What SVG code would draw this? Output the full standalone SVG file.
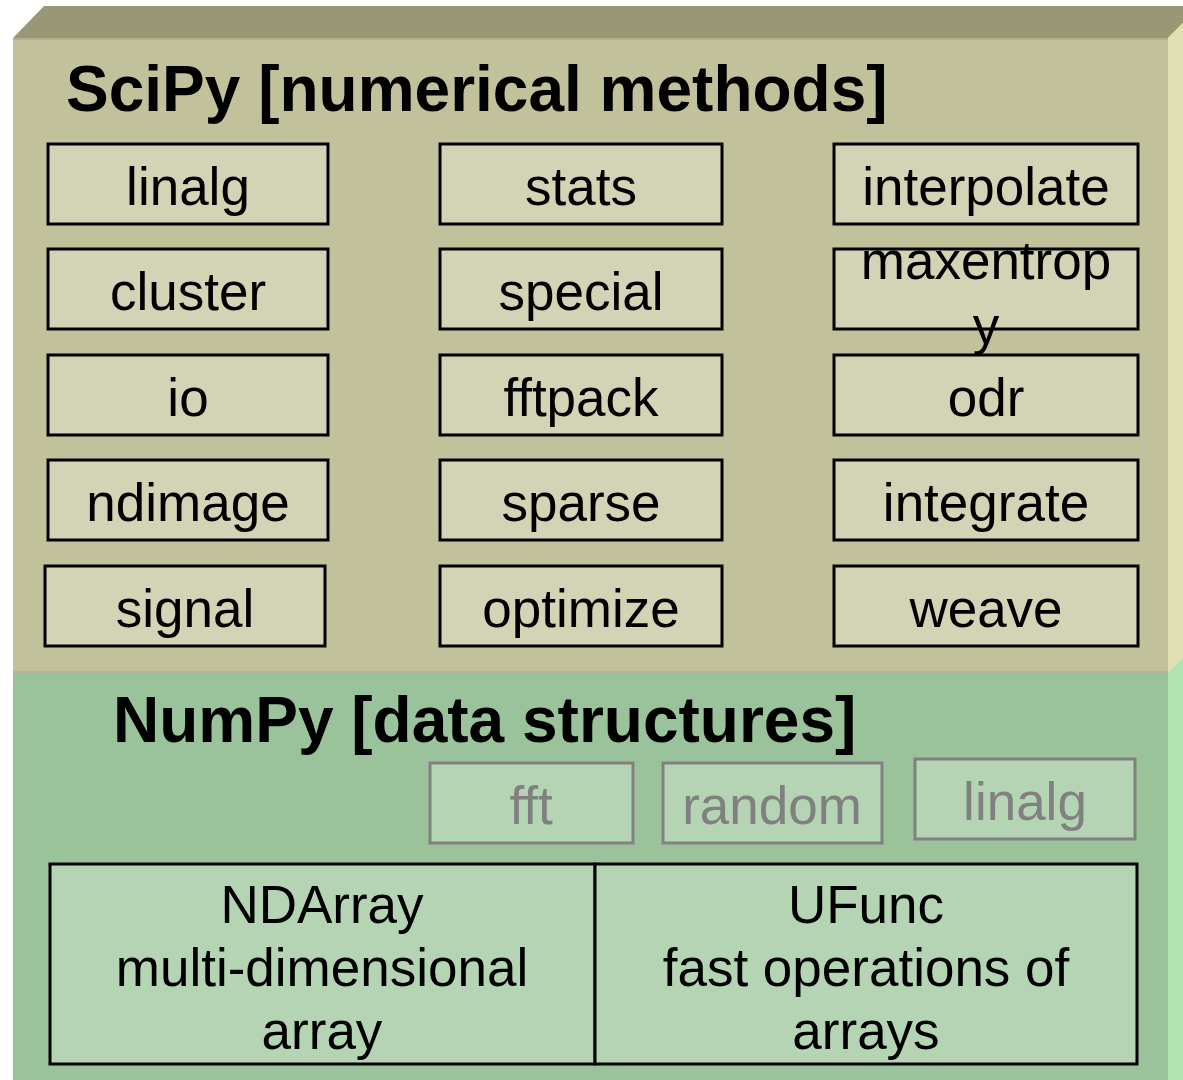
<svg xmlns="http://www.w3.org/2000/svg" width="1183" height="1080" viewBox="0 0 1183 1080">
<style>
.t{font-family:"Liberation Sans",Arial,sans-serif;font-size:53px;text-anchor:middle;fill:#000}
.title{font-family:"Liberation Sans",Arial,sans-serif;font-size:64px;font-weight:bold;fill:#000}
.sb{fill:#d3d3b5;stroke:#000;stroke-width:3}
.gb{fill:#b4d4b4;stroke:#808080;stroke-width:3}
.gt{font-family:"Liberation Sans",Arial,sans-serif;font-size:53px;text-anchor:middle;fill:#808080}
.nb{fill:#b4d4b4;stroke:#000;stroke-width:3}
</style>
<rect width="1183" height="1080" fill="#fff"/>
<g id="scipy-layer">
<polygon points="13,38 44,6 1200,6 1168,38" fill="#989776"/>
<polygon points="1168,38 1200,6 1200,641 1168,672" fill="#e0e0b2"/>
<rect x="13" y="38" width="1155" height="634" fill="#c1c29c"/>
<line x1="13" y1="39" x2="1168" y2="39" stroke="#b0b08e" stroke-width="2"/>
<text class="title" x="66" y="111">SciPy [numerical methods]</text>
</g>
<g id="numpy-layer">
<polygon points="1168,672 1200,641 1200,1080 1168,1080" fill="#b2e2b2"/>
<rect x="13" y="672" width="1155" height="408" fill="#9bc39b"/>
<line x1="13" y1="672" x2="1168" y2="672" stroke="#b4b493" stroke-width="2"/>
<text class="title" x="113" y="742">NumPy [data structures]</text>
</g>
<g id="linalg"><rect class="sb" x="48" y="144" width="280" height="80"/><text class="t" x="188" y="205">linalg</text></g>
<g id="stats"><rect class="sb" x="440" y="144" width="282" height="80"/><text class="t" x="581" y="205">stats</text></g>
<g id="interpolate"><rect class="sb" x="834" y="144" width="304" height="80"/><text class="t" x="986" y="205">interpolate</text></g>
<g id="cluster"><rect class="sb" x="48" y="249" width="280" height="80"/><text class="t" x="188" y="310">cluster</text></g>
<g id="special"><rect class="sb" x="440" y="249" width="282" height="80"/><text class="t" x="581" y="310">special</text></g>
<g id="maxentropy"><rect class="sb" x="834" y="249" width="304" height="80"/><text class="t" x="986" y="279">maxentrop</text><text class="t" x="986" y="344">y</text></g>
<g id="io"><rect class="sb" x="48" y="355" width="280" height="80"/><text class="t" x="188" y="416">io</text></g>
<g id="fftpack"><rect class="sb" x="440" y="355" width="282" height="80"/><text class="t" x="581" y="416">fftpack</text></g>
<g id="odr"><rect class="sb" x="834" y="355" width="304" height="80"/><text class="t" x="986" y="416">odr</text></g>
<g id="ndimage"><rect class="sb" x="48" y="460" width="280" height="80"/><text class="t" x="188" y="521">ndimage</text></g>
<g id="sparse"><rect class="sb" x="440" y="460" width="282" height="80"/><text class="t" x="581" y="521">sparse</text></g>
<g id="integrate"><rect class="sb" x="834" y="460" width="304" height="80"/><text class="t" x="986" y="521">integrate</text></g>
<g id="signal"><rect class="sb" x="45" y="566" width="280" height="80"/><text class="t" x="185" y="627">signal</text></g>
<g id="optimize"><rect class="sb" x="440" y="566" width="282" height="80"/><text class="t" x="581" y="627">optimize</text></g>
<g id="weave"><rect class="sb" x="834" y="566" width="304" height="80"/><text class="t" x="986" y="627">weave</text></g>
<g id="np-fft"><rect class="gb" x="430" y="763" width="203" height="80"/><text class="gt" x="531" y="824">fft</text></g>
<g id="np-random"><rect class="gb" x="663" y="763" width="219" height="80"/><text class="gt" x="772" y="824">random</text></g>
<g id="np-linalg"><rect class="gb" x="915" y="759" width="220" height="80"/><text class="gt" x="1025" y="820">linalg</text></g>
<g id="ndarray"><rect class="nb" x="50" y="864" width="545" height="200"/><text class="t" x="322" y="923">NDArray</text><text class="t" x="322" y="986">multi-dimensional</text><text class="t" x="322" y="1049">array</text></g>
<g id="ufunc"><rect class="nb" x="595" y="864" width="542" height="200"/><text class="t" x="866" y="923">UFunc</text><text class="t" x="866" y="986">fast operations of</text><text class="t" x="866" y="1049">arrays</text></g>
<g id="connectors"></g>
</svg>
